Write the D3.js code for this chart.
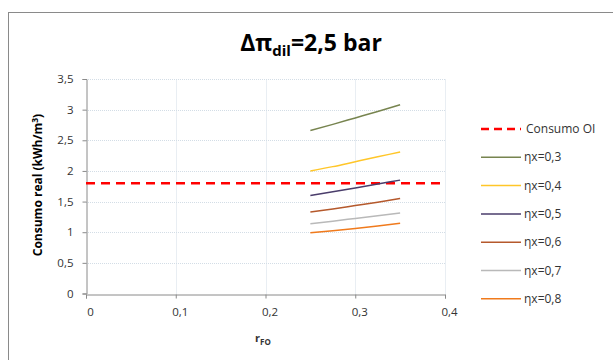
<!DOCTYPE html>
<html><head><meta charset="utf-8">
<script src="https://cdn.jsdelivr.net/npm/d3@7"></script>
<style>body{margin:0;background:#fff}svg{display:block}text{font-family:"Open Sans",sans-serif}</style>
</head><body>
<svg id="c" width="613" height="360"></svg>
<script>
const xValues = [0.25, 0.275, 0.3, 0.325, 0.35];
const seriesNames = ["ηx=0,3","ηx=0,4","ηx=0,5","ηx=0,6","ηx=0,7","ηx=0,8"];
const s03 = [2.66, 2.76, 2.865, 2.97, 3.08];
const s04 = [2.0, 2.07, 2.15, 2.23, 2.31];
const s05 = [1.6, 1.66, 1.72, 1.785, 1.85];
const s06 = [1.33, 1.38, 1.435, 1.49, 1.55];
const s07 = [1.14, 1.18, 1.225, 1.27, 1.315];
const s08 = [0.99, 1.025, 1.06, 1.10, 1.145];
const seriesValues = [s03, s04, s05, s06, s07, s08];
const seriesColors = ["#77844f","#ffc629","#4a3d6b","#b5592c","#b9b9b9","#f07a1c"];
const consumoOI = 1.8;
const consumoLabel = "Consumo OI";
const xTicks = [0, 0.1, 0.2, 0.3, 0.4];
const yTicks = [0, 0.5, 1, 1.5, 2, 2.5, 3, 3.5];

const svg = d3.select("#c");
const loc = d3.formatLocale({decimal: ",", thousands: ".", grouping: [3], currency: ["", "€"]});
const fmt = loc.format("~g");

// outer border
svg.append("rect").attr("x", 8.5).attr("y", 12.5).attr("width", 700).attr("height", 400)
  .attr("fill", "none").attr("stroke", "#8a8a8a");

const x = d3.scaleLinear().domain([0, 0.4]).range([86, 445]);
const y = d3.scaleLinear().domain([0, 3.5]).range([293.5, 79]);

// grid
const grid = svg.append("g");
grid.selectAll(".hg").data(yTicks.filter(d => d > 0)).join("line")
  .attr("x1", x(0)).attr("x2", x(0.4)).attr("y1", d => Math.round(y(d)) + 0.5).attr("y2", d => Math.round(y(d)) + 0.5)
  .attr("stroke", "#d3dde6").attr("stroke-dasharray", "1,1");
grid.selectAll(".vg").data(xTicks.filter(d => d > 0)).join("line")
  .attr("y1", y(0)).attr("y2", y(3.5)).attr("x1", d => Math.round(x(d)) + 0.5).attr("x2", d => Math.round(x(d)) + 0.5)
  .attr("stroke", "#d3dde6").attr("stroke-dasharray", "1,1");

// axes
const ya = svg.append("g").attr("transform", `translate(${Math.round(x(0)) + 0.5},0)`)
  .call(d3.axisLeft(y).tickValues(yTicks).tickFormat(fmt).tickSize(4).tickPadding(9));
const xa = svg.append("g").attr("transform", `translate(0,${Math.round(y(0)) + 0.5})`)
  .call(d3.axisBottom(x).tickValues(xTicks).tickFormat(fmt).tickSize(4).tickPadding(9));
[ya, xa].forEach(a => {
  a.select(".domain").attr("stroke", "#8a8a8a");
  a.selectAll(".tick line").attr("stroke", "#8a8a8a");
  a.selectAll(".tick text").attr("font-size", 11.5).attr("fill", "#333").attr("font-family", "'Open Sans', sans-serif");
});
xa.selectAll(".tick text").attr("dx", 4);

// Consumo OI
svg.append("line").attr("x1", x(0)).attr("x2", x(0.4)).attr("y1", y(consumoOI)).attr("y2", y(consumoOI))
  .attr("stroke", "#ff0000").attr("stroke-width", 2.5).attr("stroke-dasharray", "9,6");

// series
const line = d3.line().x((d, i) => x(xValues[i])).y(d => y(d)).curve(d3.curveMonotoneX);
svg.append("g").selectAll("path").data(seriesValues).join("path")
  .attr("d", d => line(d)).attr("fill", "none")
  .attr("stroke", (d, i) => seriesColors[i]).attr("stroke-width", 1.5);

// title
const t = svg.append("text").attr("x", 311).attr("y", 51).attr("text-anchor", "middle")
  .attr("font-size", 23).attr("font-weight", "bold").attr("fill", "#000");
t.append("tspan").text("Δπ");
t.append("tspan").attr("font-size", 15).attr("dy", 5).text("dil");
t.append("tspan").attr("dy", -5).text("=2,5 bar");

// y label
const yl = svg.append("text").attr("transform", "translate(42,185) rotate(-90)").attr("text-anchor", "middle")
  .attr("font-size", 12).attr("font-weight", "bold").attr("fill", "#000");
yl.append("tspan").text("Consumo real (kWh/m");
yl.append("tspan").attr("font-size", 8.5).attr("dy", -4).text("3");
yl.append("tspan").attr("dy", 4).text(")");

// x label
const xl = svg.append("text").attr("x", 263).attr("y", 342).attr("text-anchor", "middle")
  .attr("font-size", 11).attr("font-weight", "bold").attr("fill", "#333");
xl.append("tspan").text("r");
xl.append("tspan").attr("font-size", 8).attr("dy", 3).text("FO");

// legend
const lg = svg.append("g");
const legItems = [{name: consumoLabel, color: "#ff0000", dash: true}]
  .concat(seriesNames.map((n, i) => ({name: n, color: seriesColors[i], dash: false})));
legItems.forEach((it, i) => {
  const yy = 129 + i * 28.3;
  lg.append("line").attr("x1", 481).attr("x2", 521).attr("y1", yy).attr("y2", yy)
    .attr("stroke", it.color).attr("stroke-width", it.dash ? 2.5 : 1.5)
    .attr("stroke-dasharray", it.dash ? "8,5" : null);
  lg.append("text").attr("x", it.dash ? 526 : 524).attr("y", yy + 4).attr("font-size", 12)
    .attr("fill", "#333").text(it.name);
});
</script>
</body></html>
